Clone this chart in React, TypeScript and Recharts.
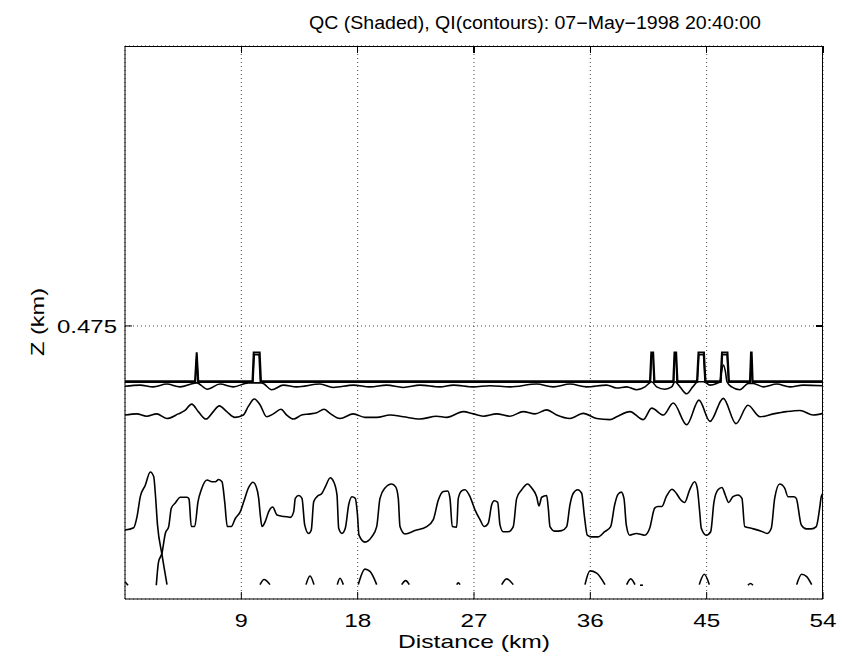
import React from 'react';
import {
  LineChart,
  Line,
  XAxis,
  YAxis,
  CartesianGrid,
} from 'recharts';

// axis ticks
const distanceTicks = [9, 18, 27, 36, 45, 54];
const heightTicks = [0.475];
const xDomain = [0, 54];
const zDomain = [0, 0.962];

// contour lines, x = distance (km), z = height (km)
const iceOuter = [
  [0, 0.379], [5.415, 0.379], [5.547, 0.429], [5.67, 0.379], [9.863, 0.379], [9.956, 0.429],
  [10.42, 0.429], [10.521, 0.379], [40.614, 0.379], [40.715, 0.429], [40.861, 0.429], [40.962, 0.379],
  [42.417, 0.379], [42.509, 0.429], [42.641, 0.429], [42.742, 0.379], [44.25, 0.379], [44.366, 0.429],
  [44.792, 0.429], [44.908, 0.379], [46.068, 0.379], [46.184, 0.429], [46.61, 0.429], [46.726, 0.379],
  [48.35, 0.379], [48.428, 0.429], [48.482, 0.429], [48.559, 0.379], [54, 0.379],
];

const iceInner = [
  [0, 0.377], [5.454, 0.377], [5.554, 0.423], [5.647, 0.377], [9.902, 0.377], [10.003, 0.425],
  [10.366, 0.425], [10.467, 0.377], [40.652, 0.377], [40.73, 0.423], [40.846, 0.423], [40.923, 0.377],
  [42.455, 0.377], [42.532, 0.423], [42.625, 0.423], [42.703, 0.377], [44.289, 0.377], [44.405, 0.425],
  [44.753, 0.425], [44.869, 0.377], [46.107, 0.377], [46.223, 0.425], [46.571, 0.425], [46.687, 0.377],
  [48.373, 0.377], [48.451, 0.423], [48.528, 0.377], [54, 0.377],
];

const iceWave = [
  [0, 0.37], [1.16, 0.372], [2.189, 0.369], [3.226, 0.374], [4.255, 0.369], [5.284, 0.375], [5.547, 0.376],
  [6.367, 0.365], [7.349, 0.374], [8.378, 0.369], [9.539, 0.376], [10.575, 0.376], [11.349, 0.364],
  [12.246, 0.372], [13.283, 0.369], [15.085, 0.374], [16.114, 0.368], [17.661, 0.372], [18.953, 0.369],
  [20.245, 0.372], [21.529, 0.368], [22.821, 0.372], [24.368, 0.369], [25.397, 0.372], [26.945, 0.369],
  [28.236, 0.371], [29.784, 0.369], [31.849, 0.374], [33.133, 0.369], [34.425, 0.374], [35.717, 0.369],
  [37.264, 0.372], [38.038, 0.367], [38.812, 0.369], [39.585, 0.364], [40.227, 0.369], [40.746, 0.378],
  [41.132, 0.369], [41.774, 0.365], [42.293, 0.369], [42.548, 0.378], [42.935, 0.369], [43.453, 0.357],
  [43.918, 0.369], [44.327, 0.378], [44.791, 0.378], [45.256, 0.372], [45.774, 0.375], [46.029, 0.378],
  [46.145, 0.395], [46.3, 0.407], [46.455, 0.395], [46.571, 0.378], [46.934, 0.369], [47.576, 0.364],
  [48.219, 0.375], [48.605, 0.375], [49.379, 0.369], [50.416, 0.374], [51.444, 0.369], [52.473, 0.372],
  [54, 0.371],
];

const cloudTop = [
  [0, 0.32], [0.905, 0.322], [1.679, 0.318], [2.452, 0.322], [3.226, 0.314], [4.123, 0.322], [4.642, 0.328],
  [5.16, 0.339], [5.671, 0.326], [6.266, 0.313], [6.831, 0.326], [7.295, 0.336], [7.868, 0.326],
  [8.51, 0.316], [9.152, 0.32], [9.539, 0.335], [10.003, 0.348], [10.444, 0.338], [10.962, 0.317],
  [11.473, 0.322], [12.068, 0.33], [12.509, 0.32], [13.02, 0.313], [13.67, 0.32], [14.312, 0.322],
  [14.83, 0.324], [15.395, 0.33], [15.859, 0.323], [16.632, 0.314], [17.661, 0.322], [18.566, 0.316],
  [19.472, 0.316], [20.5, 0.32], [21.529, 0.317], [22.821, 0.313], [24.113, 0.318], [24.887, 0.316],
  [26.171, 0.326], [26.945, 0.322], [27.718, 0.318], [28.755, 0.322], [29.784, 0.318], [30.813, 0.326],
  [31.718, 0.322], [32.623, 0.329], [33.396, 0.32], [34.425, 0.314], [35.454, 0.323], [36.491, 0.314],
  [37.52, 0.312], [38.038, 0.317], [39.067, 0.326], [40.096, 0.312], [40.746, 0.332], [41.643, 0.32],
  [42.417, 0.341], [43.453, 0.303], [44.405, 0.346], [45.256, 0.309], [46.285, 0.349], [47.267, 0.305],
  [48.196, 0.337], [49.124, 0.317], [50.152, 0.322], [51.189, 0.326], [52.218, 0.328], [53.247, 0.32],
  [54, 0.323],
];

const lowerLeft = [
  [0, 0.12], [0.673, 0.124], [0.928, 0.143], [1.184, 0.178], [1.57, 0.198], [1.957, 0.221], [2.22, 0.213],
  [2.344, 0.184], [2.514, 0.129], [2.862, 0.077], [3.249, 0.025],
];

const lowerMain = [
  [2.421, 0.024], [2.592, 0.064], [2.862, 0.08], [3.118, 0.114], [3.381, 0.126], [3.582, 0.158],
  [3.891, 0.167], [4.278, 0.177], [4.796, 0.177], [4.951, 0.174], [5.129, 0.126], [5.392, 0.126],
  [5.647, 0.169], [5.903, 0.19], [6.344, 0.207], [6.73, 0.204], [6.986, 0.204], [7.249, 0.208],
  [7.504, 0.204], [7.713, 0.169], [7.914, 0.126], [8.223, 0.126], [8.533, 0.14], [8.92, 0.152],
  [9.183, 0.169], [9.569, 0.194], [9.902, 0.203], [10.157, 0.195], [10.343, 0.175], [10.467, 0.146],
  [10.598, 0.126], [10.854, 0.135], [11.117, 0.152], [11.426, 0.16], [11.759, 0.146], [12.146, 0.144],
  [12.532, 0.143], [12.788, 0.142], [13.051, 0.152], [13.175, 0.175], [13.438, 0.18], [13.693, 0.175],
  [13.902, 0.129], [14.211, 0.114], [14.412, 0.12], [14.598, 0.169], [14.853, 0.178], [15.24, 0.184],
  [15.495, 0.195], [15.882, 0.211], [16.145, 0.204], [16.4, 0.181], [16.532, 0.123], [16.787, 0.114],
  [17.043, 0.123], [17.306, 0.164], [17.561, 0.178], [17.816, 0.175], [17.986, 0.146], [18.102, 0.111],
  [18.566, 0.099], [19.085, 0.108], [19.472, 0.126], [19.727, 0.175], [20.114, 0.193], [20.632, 0.2],
  [20.942, 0.195], [21.143, 0.175], [21.274, 0.126], [21.661, 0.113], [22.434, 0.119], [23.34, 0.126],
  [23.85, 0.138], [24.237, 0.172], [24.624, 0.187], [24.964, 0.188], [25.142, 0.175], [25.32, 0.126],
  [25.66, 0.125], [25.784, 0.175], [26.047, 0.188], [26.302, 0.19], [26.689, 0.178], [27.076, 0.155],
  [27.463, 0.138], [27.796, 0.126], [28.105, 0.132], [28.368, 0.164], [28.569, 0.171], [28.832, 0.168],
  [29.01, 0.129], [29.265, 0.117], [29.652, 0.117], [30.039, 0.126], [30.302, 0.175], [30.689, 0.19],
  [31.153, 0.2], [31.462, 0.193], [31.849, 0.178], [32.027, 0.162], [32.236, 0.177], [32.623, 0.18],
  [32.747, 0.158], [32.878, 0.126], [33.265, 0.118], [33.783, 0.119], [34.17, 0.126], [34.425, 0.164],
  [34.681, 0.184], [35.021, 0.19], [35.33, 0.184], [35.532, 0.146], [35.764, 0.111], [36.104, 0.108],
  [36.591, 0.108], [37.11, 0.117], [37.574, 0.126], [37.883, 0.164], [38.138, 0.182], [38.394, 0.186],
  [38.603, 0.175], [38.781, 0.129], [39.044, 0.111], [39.554, 0.114], [40.204, 0.111], [40.591, 0.123],
  [40.978, 0.158], [41.233, 0.161], [41.542, 0.161], [41.875, 0.178], [42.316, 0.191], [42.649, 0.184],
  [42.912, 0.175], [43.298, 0.168], [43.685, 0.19], [44.072, 0.204], [44.273, 0.193], [44.459, 0.152],
  [44.583, 0.123], [44.97, 0.111], [45.31, 0.117], [45.566, 0.169], [45.875, 0.19], [46.184, 0.194],
  [46.439, 0.181], [46.702, 0.168], [47.035, 0.178], [47.422, 0.181], [47.731, 0.175], [47.94, 0.126],
  [48.451, 0.123], [49.224, 0.118], [49.688, 0.114], [49.998, 0.123], [50.261, 0.175], [50.648, 0.2],
  [51.035, 0.193], [51.29, 0.178], [51.755, 0.178], [51.933, 0.175], [52.319, 0.129], [52.706, 0.122],
  [53.093, 0.122], [53.479, 0.126], [53.742, 0.158], [53.866, 0.178], [54, 0.184],
];

// small closed contours near the bottom
const bottomBumps = [
  [[0, 0.03], [0.232, 0.024]],
  [[10.444, 0.025], [10.753, 0.034], [11.217, 0.025]],
  [[14.002, 0.025], [14.312, 0.04], [14.621, 0.025]],
  [[16.424, 0.025], [16.632, 0.036], [16.888, 0.025]],
  [[18.048, 0.025], [18.566, 0.052], [18.953, 0.048], [19.472, 0.025]],
  [[21.406, 0.025], [21.715, 0.032], [21.994, 0.025]],
  [[25.66, 0.025], [25.784, 0.028], [25.916, 0.025]],
  [[29.142, 0.025], [29.529, 0.035], [30.039, 0.025]],
  [[35.586, 0.025], [35.972, 0.049], [36.491, 0.045], [37.133, 0.025]],
  [[38.812, 0.025], [39.122, 0.035], [39.454, 0.025]],
  [[39.84, 0.024], [40.072, 0.024]],
  [[44.428, 0.025], [44.815, 0.043], [45.202, 0.025]],
  [[48.196, 0.024], [48.389, 0.027], [48.582, 0.024]],
  [[51.964, 0.025], [52.351, 0.043], [52.738, 0.039], [53.124, 0.025]],
];

const toPoints = (pairs: number[][]) => pairs.map(([x, z]) => ({ x, z }));

const FONT = '"Liberation Sans", Arial, Helvetica, sans-serif';
const TICK = 7;
// plot box
const PLOT = { left: 125, top: 46, width: 698, height: 553 };
const CHART_W = 867;
const CHART_H = 661;

const BottomTick = (props: any) => {
  const { x, y, payload } = props;
  const label = String(payload.value);
  return (
    <g>
      <line x1={x} x2={x} y1={y} y2={y - TICK} stroke="#000" />
      <text x={x} y={y + 28} textAnchor="middle" fontFamily={FONT} fontSize={19} fill="#000"
        textLength={label.length === 1 ? 13 : 27} lengthAdjust="spacingAndGlyphs">
        {label}
      </text>
    </g>
  );
};

const LeftTick = (props: any) => {
  const { x, y, payload } = props;
  return (
    <g>
      <line x1={x} x2={x + TICK} y1={y} y2={y} stroke="#000" />
      <text x={x - 8} y={y + 7} textAnchor="end" fontFamily={FONT} fontSize={19} fill="#000"
        textLength={60} lengthAdjust="spacingAndGlyphs">
        {String(payload.value)}
      </text>
    </g>
  );
};

// top / right side of the box with mirrored inward ticks, and the title
const FrameOverlay = () => {
  const right = PLOT.left + PLOT.width;
  const bottom = PLOT.top + PLOT.height;
  const px = (v: number) => PLOT.left + ((v - xDomain[0]) / (xDomain[1] - xDomain[0])) * PLOT.width;
  const py = (v: number) => bottom - ((v - zDomain[0]) / (zDomain[1] - zDomain[0])) * PLOT.height;
  return (
    <svg width={CHART_W} height={CHART_H} style={{ position: 'absolute', left: 0, top: 0, pointerEvents: 'none' }}>
      <g stroke="#000" strokeWidth={1.2} shapeRendering="crispEdges">
        <line x1={PLOT.left} x2={right + 0.5} y1={PLOT.top + 0.5} y2={PLOT.top + 0.5} />
        <line x1={right - 0.5} x2={right - 0.5} y1={PLOT.top} y2={bottom} />
        {distanceTicks.map((t) => (
          <line key={t} x1={px(t)} x2={px(t)} y1={PLOT.top} y2={PLOT.top + TICK} />
        ))}
        {heightTicks.map((t) => (
          <line key={t} x1={right} x2={right - TICK} y1={py(t)} y2={py(t)} />
        ))}
      </g>
      <text x={535} y={29} textAnchor="middle" fontFamily={FONT} fontSize={18} fill="#000"
        textLength={452} lengthAdjust="spacingAndGlyphs">
        QC (Shaded), QI(contours): 07−May−1998 20:40:00
      </text>
    </svg>
  );
};

const lineProps = {
  dataKey: 'z',
  stroke: '#000',
  dot: false,
  activeDot: false,
  isAnimationActive: false,
};

export default function App() {
  return (
    <div style={{ position: 'absolute', left: 0, top: 0, width: CHART_W, height: CHART_H, background: '#fff' }}>
      <LineChart
        width={CHART_W}
        height={CHART_H}
        margin={{ top: PLOT.top, right: CHART_W - PLOT.left - PLOT.width, bottom: 32, left: 65 }}
      >
        <CartesianGrid stroke="#444" strokeDasharray="1 3" />
        <XAxis
          dataKey="x"
          type="number"
          domain={xDomain}
          ticks={distanceTicks}
          allowDataOverflow
          height={30}
          stroke="#000"
          tickLine={false}
          tickSize={0}
          tickMargin={0}
          tick={<BottomTick />}
          label={{
            content: (p: any) => {
              const vb = p.viewBox;
              return (
                <text x={vb.x + vb.width / 2} y={vb.y + 49} textAnchor="middle" fontFamily={FONT}
                  fontSize={19} fill="#000" textLength={152} lengthAdjust="spacingAndGlyphs">
                  Distance (km)
                </text>
              );
            },
          }}
        />
        <YAxis
          type="number"
          domain={zDomain}
          ticks={heightTicks}
          allowDataOverflow
          width={60}
          stroke="#000"
          tickLine={false}
          tickSize={0}
          tickMargin={0}
          tick={<LeftTick />}
          label={{
            content: () => (
              <text transform="translate(44,322) rotate(-90)" textAnchor="middle" fontFamily={FONT}
                fontSize={19} fill="#000" textLength={68} lengthAdjust="spacingAndGlyphs">
                Z (km)
              </text>
            ),
          }}
        />

        <Line {...lineProps} data={toPoints(iceOuter)} type="linear" strokeWidth={2} />
        <Line {...lineProps} data={toPoints(iceInner)} type="linear" strokeWidth={1.5} />
        <Line {...lineProps} data={toPoints(iceWave)} type="monotone" strokeWidth={1.6} />
        <Line {...lineProps} data={toPoints(cloudTop)} type="monotone" strokeWidth={1.6} />
        <Line {...lineProps} data={toPoints(lowerLeft)} type="monotone" strokeWidth={1.6} />
        <Line {...lineProps} data={toPoints(lowerMain)} type="monotone" strokeWidth={1.6} />
        {bottomBumps.map((seg, i) => (
          <Line key={`bump-${i}`} {...lineProps} data={toPoints(seg)} type="monotone" strokeWidth={1.6} />
        ))}
      </LineChart>
      <FrameOverlay />
    </div>
  );
}
